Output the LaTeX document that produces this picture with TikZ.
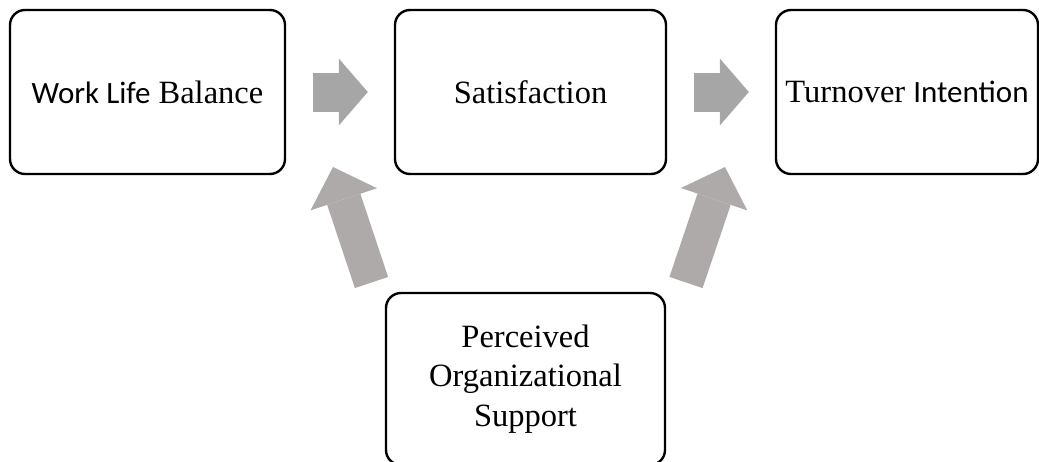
\documentclass[tikz,border=0pt]{standalone}
\usepackage{fontspec}
\setmainfont{Liberation Serif}
\newfontfamily\calibri{Carlito}
\usetikzlibrary{arrows.meta}

\definecolor{flatgray}{HTML}{A6A6A6}
\definecolor{warmgray}{HTML}{AEAAAA}

\newcommand\sans[1]{{\calibri\fontsize{31}{39.5}\selectfont #1}}

\tikzset{
  box/.style={draw=black, line width=2.4pt, rounded corners=15pt, align=center,
    minimum height=164pt, inner sep=0pt,
    font=\fontsize{32.5}{39.5}\selectfont},
  flow/.style={draw=flatgray, line width=39pt,
    -{Triangle[width=67pt,length=29pt,line width=0pt]}},
  lift/.style={draw=warmgray, line width=35pt,
    -{Triangle[width=70pt,length=34pt,line width=0pt]}}
}

\begin{document}
\begin{tikzpicture}[x=1pt,y=-1pt]
\useasboundingbox (0,0) rectangle (1039,461);

% the four blocks
\node [box, minimum width=275pt] (wlb) at (147.5,92) {\sans{Work Life} Balance};
\node [box, minimum width=271pt] (sat) at (530.5,92) {Satisfaction};
\node [box, minimum width=262pt] (turn) at (907,92) {Turnover \sans{Intention}};
\node [box, minimum width=279pt, minimum height=172pt] (pos) at (525.5,379)
  {Perceived\\Organizational\\Support};

% horizontal block arrows
\draw [flow, shorten <=27pt, shorten >=26pt] (wlb) -- (sat);
\draw [flow, shorten <=27pt, shorten >=26pt] (sat) -- (turn);

% slanted arrows out of the support block
\coordinate (posl) at (371.5,282.5);
\coordinate (satin) at (333,167);
\coordinate (posr) at (686,282.5);
\coordinate (turnin) at (725,167);
\draw [lift] (posl) -- (satin);
\draw [lift] (posr) -- (turnin);
\end{tikzpicture}
\end{document}
